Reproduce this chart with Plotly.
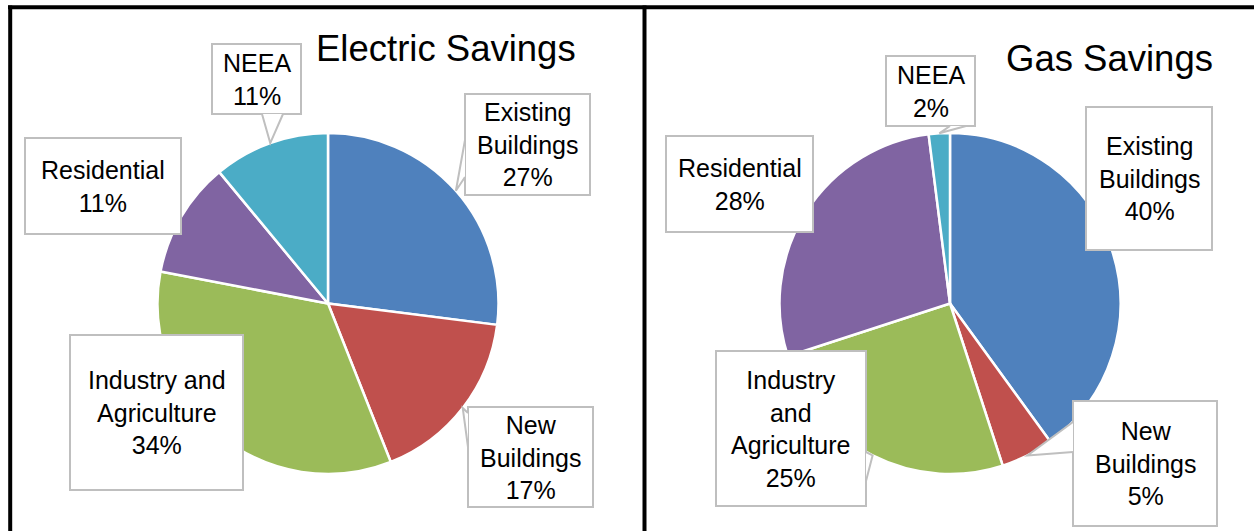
import math
import plotly.graph_objects as go

W, H = 1254, 531

# --- data ---
categories = ["Existing Buildings", "New Buildings", "Industry and Agriculture", "Residential", "NEEA"]
colors = ["#4F81BD", "#C0504D", "#9BBB59", "#8064A2", "#4BACC6"]
electric_pct = [27, 17, 34, 11, 11]
gas_pct = [40, 5, 25, 28, 2]

electric_text = ["Existing<br>Buildings", "New<br>Buildings", "Industry and<br>Agriculture", "Residential", "NEEA"]
gas_text = ["Existing<br>Buildings", "New<br>Buildings", "Industry<br>and<br>Agriculture", "Residential", "NEEA"]

# --- layout (pixels) ---
R = 170.5
elec_center = (328, 303.5)
gas_center = (950, 303.5)

# box x0, y0, x1, y1 ; tail side and base span along that side (pixels), None = hidden tail
elec_boxes = [
    ((465, 94, 590, 195), ("left", 140, 177)),
    ((468, 407, 593, 507), ("left", 413, 447)),
    ((70, 335, 243, 490), None),
    ((25, 138, 181, 234), None),
    ((212, 44, 301, 114), ("bottom", 262, 283)),
]
gas_boxes = [
    ((1086, 107, 1212, 250), None),
    ((1073, 401, 1217, 526), ("left", 422, 452)),
    ((716, 351, 866, 506), ("right", 452, 481)),
    ((666, 136, 813, 232), None),
    ((886, 56, 975, 126), ("bottom", 950, 966)),
]


def px(x):
    return x / W


def py(y):
    return 1 - y / H


def domain(c):
    return dict(x=[px(c[0] - R), px(c[0] + R)], y=[py(c[1] + R), py(c[1] - R)])


fig = go.Figure()
for vals, c in [(electric_pct, elec_center), (gas_pct, gas_center)]:
    fig.add_trace(go.Pie(
        labels=categories, values=vals, sort=False, direction="clockwise", rotation=0,
        marker=dict(colors=colors, line=dict(color="white", width=2.5)),
        textinfo="none", hoverinfo="label+percent", showlegend=False,
        domain=domain(c),
    ))

shapes = []
annotations = []
box_line = "#BFBFBF"
for vals, texts, boxes, c in [(electric_pct, electric_text, elec_boxes, elec_center),
                              (gas_pct, gas_text, gas_boxes, gas_center)]:
    total = sum(vals)
    cum = 0
    for v, t, (box, tail) in zip(vals, texts, boxes):
        theta = 2 * math.pi * (cum + v / 2) / total
        cum += v
        tip = (c[0] + R * math.sin(theta), c[1] - R * math.cos(theta))
        x0, y0, x1, y1 = box
        shapes.append(dict(type="rect", xref="paper", yref="paper",
                           x0=px(x0), x1=px(x1), y0=py(y1), y1=py(y0),
                           line=dict(color=box_line, width=2), fillcolor="white", layer="above"))
        if tail:
            side, a, b = tail
            if side == "left":
                p1, p2 = (x0, a), (x0, b)
            elif side == "right":
                p1, p2 = (x1, a), (x1, b)
            else:
                p1, p2 = (a, y1), (b, y1)
            path = "M {:.5f},{:.5f} L {:.5f},{:.5f} L {:.5f},{:.5f}".format(
                px(p1[0]), py(p1[1]), px(tip[0]), py(tip[1]), px(p2[0]), py(p2[1]))
            shapes.append(dict(type="path", xref="paper", yref="paper", path=path,
                               line=dict(color=box_line, width=2), fillcolor="white", layer="above"))
        pct = round(100 * v / total)
        annotations.append(dict(
            x=px((x0 + x1) / 2), y=py((y0 + y1) / 2), xref="paper", yref="paper",
            text=f"{t}<br>{pct}%", showarrow=False, xanchor="center", yanchor="middle",
            align="center", font=dict(size=25, color="black")))

# panel frame
frame = dict(color="black", width=4)
shapes += [
    dict(type="line", xref="paper", yref="paper", x0=px(8), x1=1, y0=py(7.3), y1=py(7.3), line=frame),
    dict(type="line", xref="paper", yref="paper", x0=px(10.2), x1=px(10.2), y0=0, y1=py(5.5), line=frame),
    dict(type="line", xref="paper", yref="paper", x0=px(644.5), x1=px(644.5), y0=0, y1=py(5.5), line=frame),
]

annotations += [
    dict(x=px(314), y=py(48), xref="paper", yref="paper", text="Electric Savings",
         showarrow=False, xanchor="left", yanchor="middle", font=dict(size=36.5, color="black")),
    dict(x=px(1004), y=py(58), xref="paper", yref="paper", text="Gas Savings",
         showarrow=False, xanchor="left", yanchor="middle", font=dict(size=36.5, color="black")),
]

fig.update_layout(
    width=W, height=H,
    margin=dict(l=0, r=0, t=0, b=0),
    paper_bgcolor="white", plot_bgcolor="white",
    font=dict(family="Liberation Sans, Arial, sans-serif", color="black"),
    shapes=shapes, annotations=annotations,
)

# page body has a default 8px margin; drop it so the figure sits at the window origin
fig.write_html("out.html", config={"displayModeBar": False},
               post_script="document.body.style.margin='0';document.body.style.overflow='hidden';")
